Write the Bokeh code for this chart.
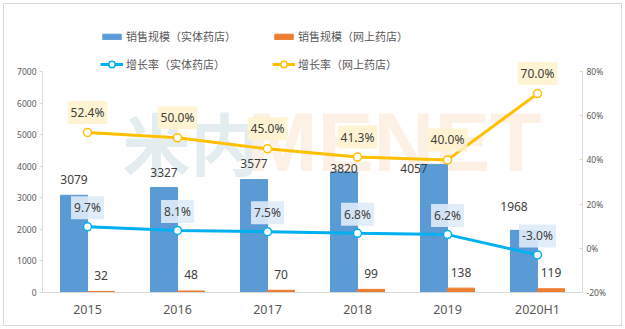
from bokeh.plotting import figure
from bokeh.models import (ColumnDataSource, Range1d, LinearAxis, FixedTicker,
                          PrintfTickFormatter, Legend, LegendItem, Label,
                          FactorRange, InlineStyleSheet)
from bokeh.transform import dodge
from bokeh.core.properties import value
from bokeh.embed import file_html
from bokeh.resources import INLINE

# ---------------- data ----------------
years = ["2015", "2016", "2017", "2018", "2019", "2020H1"]
sales_store = [3079, 3327, 3577, 3820, 4057, 1968]      # 销售规模（实体药店）
sales_online = [32, 48, 70, 99, 138, 119]               # 销售规模（网上药店）
growth_store = [9.7, 8.1, 7.5, 6.8, 6.2, -3.0]          # 增长率（实体药店） %
growth_online = [52.4, 50.0, 45.0, 41.3, 40.0, 70.0]    # 增长率（网上药店） %
left_ticks = [0, 1000, 2000, 3000, 4000, 5000, 6000, 7000]
right_ticks = [-20, 0, 20, 40, 60, 80]
series_names = ["销售规模（实体药店）", "销售规模（网上药店）",
                "增长率（实体药店）", "增长率（网上药店）"]

# label nudges (screen px) for the store-sales labels
store_dx = [0, 0, 0, 0, -20, -10]
store_dy = [-16, -15, -16, -3, 4, -24]

src = ColumnDataSource(dict(
    year=years,
    store=sales_store,
    online=sales_online,
    g_store=growth_store,
    g_online=growth_online,
    store_txt=[str(v) for v in sales_store],
    online_txt=[str(v) for v in sales_online],
    g_store_txt=["%.1f%%" % v for v in growth_store],
    g_online_txt=["%.1f%%" % v for v in growth_online],
    sdx=store_dx,
    sdy=store_dy,
))

BLUE = "#5B9BD5"
ORANGE = "#ED7D31"
CYAN = "#00B0F0"
GOLD = "#FFC000"
TXT = "#404040"
AX = "#595959"
NUM_FONT = value("Noto Sans")

# geometry: plot frame reaches the top of the canvas so that legend and
# labels above the 7000 line are not clipped; the axes are bounded.
H = 329
BOTTOM = 37          # px below the zero line
AXIS_PX = 221        # px spanned by 0..7000 / -20%..80%
frame_px = H - BOTTOM
y_top_left = left_ticks[-1] * frame_px / AXIS_PX
span_right = right_ticks[-1] - right_ticks[0]
y_top_right = right_ticks[0] + span_right * frame_px / AXIS_PX

border_css = InlineStyleSheet(css=":host { outline: 1.5px solid #d9d9d9; outline-offset: -4px; }")

p = figure(width=625, height=H, x_range=FactorRange(*years),
           y_range=Range1d(0, y_top_left), output_backend="svg",
           toolbar_location=None, min_border_left=42, min_border_right=43,
           min_border_top=0, min_border_bottom=BOTTOM,
           styles={"outline": "1.5px solid #d9d9d9", "outline-offset": "-4px"},
           stylesheets=[border_css])
p.outline_line_color = None
p.background_fill_color = None
p.border_fill_color = None
p.grid.visible = False
p.extra_y_ranges = {"right": Range1d(right_ticks[0], y_top_right)}

# axes
p.xaxis.axis_line_color = "#d9d9d9"
p.xaxis.major_tick_line_color = None
p.xaxis.major_tick_out = 0
p.xaxis.major_tick_in = 0
p.xaxis.minor_tick_line_color = None
p.xaxis.major_label_text_font_size = "12.5px"
p.xaxis.major_label_text_color = AX
p.xaxis.major_label_text_font = "Noto Sans"
p.xaxis.major_label_standoff = 8

p.yaxis.ticker = FixedTicker(ticks=left_ticks)
p.yaxis.bounds = (left_ticks[0], left_ticks[-1])
p.yaxis.axis_line_color = "#d9d9d9"
p.yaxis.major_tick_line_color = "#d9d9d9"
p.yaxis.major_tick_out = 3
p.yaxis.major_tick_in = 0
p.yaxis.minor_tick_line_color = None
p.yaxis.major_label_text_font_size = "8.5px"
p.yaxis.major_label_text_color = AX
p.yaxis.major_label_text_font = "Noto Sans"
p.yaxis.major_label_standoff = 3

ra = LinearAxis(y_range_name="right", ticker=FixedTicker(ticks=right_ticks),
                formatter=PrintfTickFormatter(format="%d%%"),
                bounds=(right_ticks[0], right_ticks[-1]))
ra.axis_line_color = "#d9d9d9"
ra.major_tick_line_color = "#d9d9d9"
ra.major_tick_in = 3
ra.major_tick_out = 0
ra.minor_tick_line_color = None
ra.major_label_text_font_size = "8.5px"
ra.major_label_text_color = AX
ra.major_label_text_font = "Noto Sans"
ra.major_label_standoff = 4
p.add_layout(ra, "right")

# watermark
wm1 = Label(x=80, y=151, x_units="screen", y_units="screen", text="米内",
            text_font="Noto Sans CJK SC", text_font_style="bold",
            text_font_size="68px", text_color="#E3EDF0",
            text_baseline="middle", level="underlay")
wm2 = Label(x=205, y=151, x_units="screen", y_units="screen", text="MENET",
            text_font="Liberation Sans", text_font_style="bold",
            text_font_size="84px", text_color="#FDF0E4",
            text_baseline="middle", level="underlay")
p.add_layout(wm1)
p.add_layout(wm2)

# bars
r_b1 = p.vbar(x=dodge("year", -0.15, range=p.x_range), top="store", width=0.3,
              color=BLUE, source=src)
r_b2 = p.vbar(x=dodge("year", 0.15, range=p.x_range), top="online", width=0.3,
              color=ORANGE, source=src)

# lines
r_l1 = p.line(x="year", y="g_store", line_color=CYAN, line_width=3,
              y_range_name="right", source=src)
r_s1 = p.scatter(x="year", y="g_store", size=8, fill_color="white",
                 line_color=CYAN, line_width=1.5, y_range_name="right",
                 source=src)
r_l2 = p.line(x="year", y="g_online", line_color=GOLD, line_width=3,
              y_range_name="right", source=src)
r_s2 = p.scatter(x="year", y="g_online", size=8, fill_color="white",
                 line_color=GOLD, line_width=1.5, y_range_name="right",
                 source=src)

# value labels on bars
p.text(x=dodge("year", -0.15, range=p.x_range), y="store", text="store_txt",
       x_offset="sdx", y_offset="sdy", text_align="center",
       text_baseline="middle", text_font=NUM_FONT, text_font_size="12px",
       text_color=TXT, source=src)
p.text(x=dodge("year", 0.15, range=p.x_range), y="online", text="online_txt",
       y_offset=-16, text_align="center", text_baseline="middle",
       text_font=NUM_FONT, text_font_size="12px", text_color=TXT, source=src)

# rate labels with boxes
p.text(x="year", y="g_store", text="g_store_txt", y_offset=-19,
       text_align="center", text_baseline="middle", text_font=NUM_FONT,
       text_font_size="12px", text_color=TXT, y_range_name="right",
       background_fill_color="#DEEBF7", background_fill_alpha=0.9,
       padding=3, source=src)
p.text(x="year", y="g_online", text="g_online_txt", y_offset=-20,
       text_align="center", text_baseline="middle", text_font=NUM_FONT,
       text_font_size="12px", text_color=TXT, y_range_name="right",
       background_fill_color="#FFF2CC", background_fill_alpha=0.85,
       padding=3, source=src)

# legend: four single-item legends
def make_leg(item, vx, vy, gh):
    lg = Legend(items=[item], location=(vx, vy), glyph_width=23,
                glyph_height=gh, label_standoff=3, padding=0, margin=0,
                spacing=0, border_line_color=None, background_fill_alpha=0,
                label_text_font="Noto Sans CJK SC",
                label_text_font_size="11px", label_text_color=AX,
                label_height=16)
    p.add_layout(lg)

make_leg(LegendItem(label=series_names[0], renderers=[r_b1]), 58, 248, 7)
make_leg(LegendItem(label=series_names[1], renderers=[r_b2]), 230, 248, 7)
make_leg(LegendItem(label=series_names[2], renderers=[r_l1, r_s1]), 58, 220, 16)
make_leg(LegendItem(label=series_names[3], renderers=[r_l2, r_s2]), 230, 220, 16)

open("out.html", "w").write(file_html(p, INLINE))
